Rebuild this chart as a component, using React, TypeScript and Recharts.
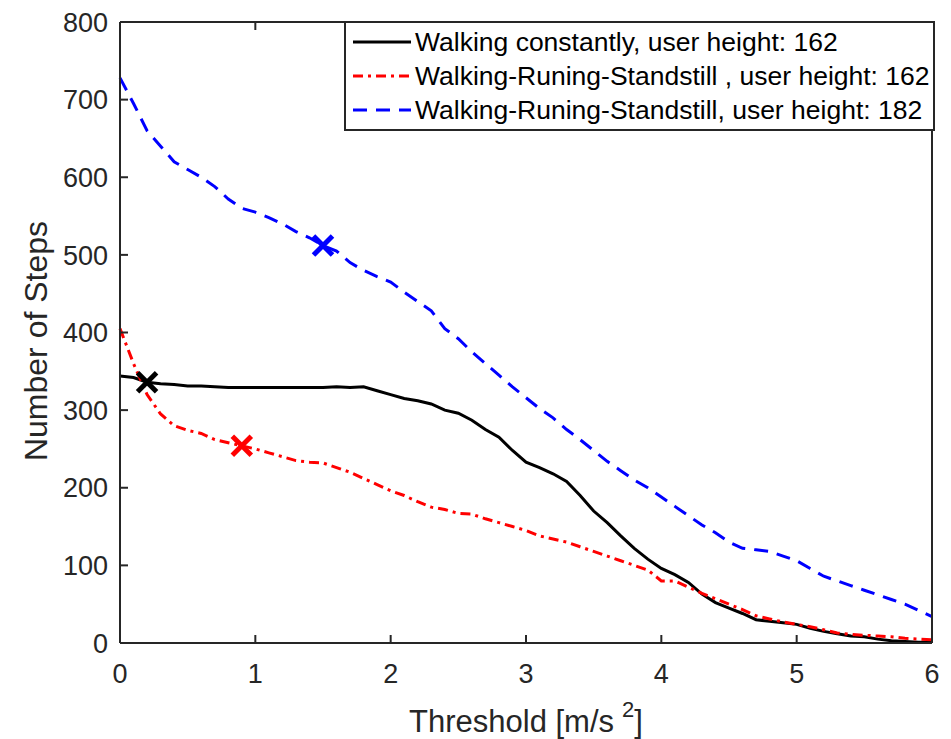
import { ComposedChart, Line, XAxis, YAxis, Legend } from "recharts"

const THRESHOLDS = [
  0, 0.1, 0.2, 0.3, 0.4, 0.5, 0.6, 0.7, 0.8, 0.9, 1, 1.1, 1.2, 1.3, 1.4, 1.5, 1.6, 1.7, 1.8, 1.9, 2,
  2.1, 2.2, 2.3, 2.4, 2.5, 2.6, 2.7, 2.8, 2.9, 3, 3.1, 3.2, 3.3, 3.4, 3.5, 3.6, 3.7, 3.8, 3.9, 4,
  4.1, 4.2, 4.3, 4.4, 4.5, 4.6, 4.7, 4.8, 4.9, 5, 5.1, 5.2, 5.3, 5.4, 5.5, 5.6, 5.7, 5.8, 5.9, 6,
]

const WALK_162 = [
  344, 342, 336, 334, 333, 331, 331, 330, 329, 329, 329, 329, 329, 329, 329, 329, 330, 329, 330, 325, 320,
  315, 312, 308, 300, 296, 287, 275, 265, 248, 233, 226, 218, 208, 190, 170, 155, 138, 122, 108, 96,
  88, 78, 63, 52, 45, 38, 30, 28, 26, 24, 19, 15, 12, 9, 8, 5, 3, 2, 1, 1,
]

const MIXED_162 = [
  405, 360, 320, 295, 280, 274, 270, 262, 258, 254, 250, 245, 240, 235, 233, 232, 226, 220, 212, 204, 196,
  190, 182, 175, 172, 167, 166, 160, 155, 150, 145, 138, 134, 130, 124, 118, 112, 106, 100, 94, 80,
  80, 72, 64, 57, 50, 43, 35, 31, 27, 24, 21, 17, 13, 11, 10, 9, 8, 6, 5, 4,
]

const MIXED_182 = [
  728, 695, 660, 640, 620, 610, 600, 588, 572, 560, 555, 548, 540, 530, 522, 512, 505, 490, 480, 472, 465,
  452, 440, 428, 405, 392, 375, 360, 345, 330, 316, 302, 290, 275, 262, 248, 234, 222, 210, 200, 188,
  176, 164, 152, 142, 130, 122, 120, 118, 112, 106, 96, 86, 80, 74, 68, 62, 56, 50, 42, 34,
]

// index of the chosen threshold (the "x" marker) per series
const MARK_WALK_162 = 2
const MARK_MIXED_162 = 9
const MARK_MIXED_182 = 15

const X_TICKS = [0, 1, 2, 3, 4, 5, 6]
const Y_TICKS = [0, 100, 200, 300, 400, 500, 600, 700, 800]

const SERIES = [
  { key: "walk162", name: "Walking constantly, user height: 162", color: "#000000", dash: undefined, mark: MARK_WALK_162 },
  { key: "mixed162", name: "Walking-Runing-Standstill , user height: 162", color: "#ff0000", dash: "10 5 3 5", mark: MARK_MIXED_162 },
  { key: "mixed182", name: "Walking-Runing-Standstill, user height: 182", color: "#0000ff", dash: "14 9", mark: MARK_MIXED_182 },
]

const data = THRESHOLDS.map((x, i) => ({
  x,
  walk162: WALK_162[i],
  mixed162: MIXED_162[i],
  mixed182: MIXED_182[i],
}))

const FONT = "'Liberation Sans', Arial, Helvetica, sans-serif"
const AXIS = "#262626"
const PLOT_TOP = 22
const PLOT_LEFT = 120
const PLOT_RIGHT = 932
const PLOT_BOTTOM = 643
const TICK = 8

function makeDot(markIndex: number, color: string) {
  return (props: any) => {
    const { cx, cy, index } = props
    if (index !== markIndex) return <g key={`d${index}`} />
    const s = 9.5
    return (
      <g key={`d${index}`}>
        <line x1={cx - s} y1={cy - s} x2={cx + s} y2={cy + s} stroke={color} strokeWidth={5} />
        <line x1={cx - s} y1={cy + s} x2={cx + s} y2={cy - s} stroke={color} strokeWidth={5} />
      </g>
    )
  }
}

const BottomTick = (props: any) => {
  const { x, payload } = props
  return (
    <g>
      <line x1={x} y1={PLOT_BOTTOM} x2={x} y2={PLOT_BOTTOM - TICK} stroke={AXIS} strokeWidth={2} />
      <text x={x} y={PLOT_BOTTOM + 40} textAnchor="middle" fontFamily={FONT} fontSize={27} fill={AXIS}>
        {payload.value}
      </text>
    </g>
  )
}

const TopTick = (props: any) => (
  <line x1={props.x} y1={PLOT_TOP} x2={props.x} y2={PLOT_TOP + TICK} stroke={AXIS} strokeWidth={2} />
)

const LeftTick = (props: any) => {
  const { y, payload } = props
  return (
    <g>
      <line x1={PLOT_LEFT} y1={y} x2={PLOT_LEFT + TICK} y2={y} stroke={AXIS} strokeWidth={2} />
      <text x={PLOT_LEFT - 12} y={y} dy="0.36em" textAnchor="end" fontFamily={FONT} fontSize={27} fill={AXIS}>
        {payload.value}
      </text>
    </g>
  )
}

const RightTick = (props: any) => (
  <line x1={PLOT_RIGHT} y1={props.y} x2={PLOT_RIGHT - TICK} y2={props.y} stroke={AXIS} strokeWidth={2} />
)

const LegendBox = () => (
  <div
    style={{
      width: 587,
      height: 104,
      border: `2px solid ${AXIS}`,
      background: "#ffffff",
      fontFamily: FONT,
      fontSize: 26.5,
      color: "#000000",
      boxSizing: "content-box",
      paddingTop: 2,
    }}
  >
    {SERIES.map((s) => (
      <div key={s.key} style={{ display: "flex", alignItems: "center", height: 34 }}>
        <svg width={66} height={10} style={{ marginLeft: 5, flexShrink: 0 }}>
          <line x1={2} y1={5} x2={60} y2={5} stroke={s.color} strokeWidth={3} strokeDasharray={s.dash} />
        </svg>
        <span style={{ whiteSpace: "nowrap", marginLeft: -2 }}>{s.name}</span>
      </div>
    ))}
  </div>
)

export default function App() {
  return (
    <div style={{ position: "absolute", left: 0, top: 0, background: "#ffffff" }}>
      <ComposedChart
        width={951}
        height={739}
        data={data}
        margin={{ top: PLOT_TOP - 1, right: 951 - PLOT_RIGHT - 1, bottom: 739 - PLOT_BOTTOM - 1, left: PLOT_LEFT - 1 }}
      >
        <XAxis
          dataKey="x"
          type="number"
          domain={[0, 6]}
          ticks={X_TICKS}
          height={1}
          tickSize={0}
          tickLine={false}
          axisLine={{ stroke: AXIS, strokeWidth: 2 }}
          tick={BottomTick}
          label={(p: any) => {
            const vb = p.viewBox || {}
            const cx = (vb.x ?? PLOT_LEFT) + (vb.width ?? PLOT_RIGHT - PLOT_LEFT) / 2
            return (
              <text x={cx} y={732} textAnchor="middle" fontFamily={FONT} fontSize={31} fill={AXIS}>
                Threshold [m/s
                <tspan dx={8} dy={-15} fontSize={22}>2</tspan>
                <tspan dy={15}>]</tspan>
              </text>
            )
          }}
        />
        <XAxis
          xAxisId="top"
          orientation="top"
          dataKey="x"
          type="number"
          domain={[0, 6]}
          ticks={X_TICKS}
          height={1}
          tickSize={0}
          tickLine={false}
          axisLine={{ stroke: AXIS, strokeWidth: 2 }}
          tick={TopTick}
        />
        <YAxis
          type="number"
          domain={[0, 800]}
          ticks={Y_TICKS}
          width={1}
          tickSize={0}
          tickLine={false}
          axisLine={{ stroke: AXIS, strokeWidth: 2 }}
          tick={LeftTick}
          label={() => {
            const cy = 341
            return (
              <text
                x={47}
                y={cy}
                transform={`rotate(-90 47 ${cy})`}
                textAnchor="middle"
                fontFamily={FONT}
                fontSize={32}
                fill={AXIS}
              >
                Number of Steps
              </text>
            )
          }}
        />
        <YAxis
          yAxisId="right"
          orientation="right"
          type="number"
          domain={[0, 800]}
          ticks={Y_TICKS}
          width={1}
          tickSize={0}
          tickLine={false}
          axisLine={{ stroke: AXIS, strokeWidth: 2 }}
          tick={RightTick}
        />
        <Legend
          layout="horizontal"
          verticalAlign="middle"
          align="center"
          wrapperStyle={{ top: PLOT_TOP - 1, left: 344, width: 591, height: 110 }}
          content={() => <LegendBox />}
        />
        {SERIES.map((s) => (
          <Line
            key={s.key}
            dataKey={s.key}
            type="linear"
            stroke={s.color}
            strokeWidth={3}
            strokeDasharray={s.dash}
            dot={makeDot(s.mark, s.color)}
            activeDot={false}
            isAnimationActive={false}
          />
        ))}
      </ComposedChart>
    </div>
  )
}
